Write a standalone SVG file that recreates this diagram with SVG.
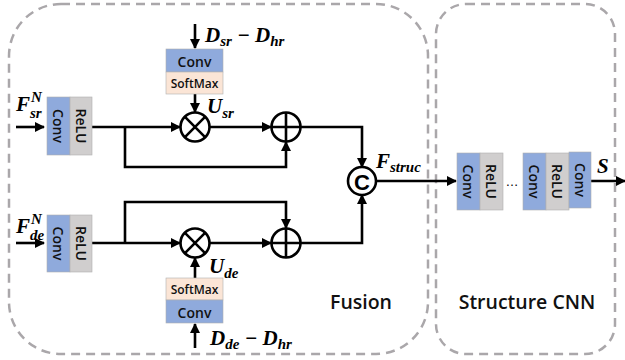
<svg xmlns="http://www.w3.org/2000/svg" width="625" height="360" viewBox="0 0 625 360">
<defs>
<marker id="ah" viewBox="0 0 10 10" refX="9" refY="5" markerWidth="10" markerHeight="10" markerUnits="userSpaceOnUse" orient="auto">
<path d="M0,0 L10,5 L0,10 Z" fill="#000"/>
</marker>
</defs>
<style>
.frame{fill:none;stroke:#aaa7aa;stroke-width:2.5;stroke-dasharray:9 6}
.ln{fill:none;stroke:#000;stroke-width:2.6}
.arr{fill:none;stroke:#000;stroke-width:2.6;marker-end:url(#ah)}
.conv{fill:#8faadc;stroke:#b0b0b0;stroke-width:0.6}
.relu{fill:#d0cece;stroke:#b0b0b0;stroke-width:0.6}
.soft{fill:#fbe5d6;stroke:#b0b0b0;stroke-width:0.6}
.bt{font-family:"Open Sans","Noto Sans",sans-serif;font-weight:600;font-size:14px;fill:#111;text-anchor:middle;dominant-baseline:central}
.sm{font-size:12px}
.op{fill:#fff;stroke:#000;stroke-width:2.6}
.m{font-family:"Liberation Serif","DejaVu Serif",serif;font-weight:bold;font-style:italic;font-size:21px;fill:#000}
.s{font-size:15px}
.cap{font-family:"Open Sans","Noto Sans",sans-serif;font-size:19.5px;font-weight:600;fill:#111;text-anchor:middle}
</style>

<g id="fusion-frame"><rect class="frame" x="9" y="4" width="419" height="350" rx="52" ry="52"/>
<text class="cap" x="361" y="309">Fusion</text></g>
<g id="cnn-frame"><rect class="frame" x="436" y="4" width="179" height="350" rx="30" ry="30"/>
<text class="cap" x="527" y="309">Structure CNN</text></g>

<g id="connectors">
<line class="arr" x1="16" y1="127" x2="44" y2="127"/>
<line class="arr" x1="16" y1="243" x2="44" y2="243"/>
<line class="arr" x1="92" y1="127" x2="180" y2="127"/>
<polyline class="arr" points="125,127 125,167 286,167 286,142"/>
<line class="arr" x1="210" y1="127" x2="271" y2="127"/>
<line class="arr" x1="195" y1="24" x2="195" y2="48"/>
<line class="arr" x1="195" y1="94" x2="195" y2="112"/>
<polyline class="arr" points="301,127 362,127 362,167"/>
<line class="arr" x1="92" y1="243" x2="180" y2="243"/>
<polyline class="arr" points="125,243 125,202 286,202 286,228"/>
<line class="arr" x1="210" y1="243" x2="271" y2="243"/>
<line class="arr" x1="195" y1="348" x2="195" y2="324"/>
<line class="arr" x1="195" y1="278" x2="195" y2="258"/>
<polyline class="arr" points="301,243 362,243 362,195"/>
<line class="arr" x1="376" y1="181" x2="456" y2="181"/>
<line class="arr" x1="591" y1="181" x2="625" y2="181"/>
</g>

<g id="convrelu-sr">
<rect class="conv" x="47" y="97" width="23" height="58"/>
<rect class="relu" x="70" y="97" width="22" height="58"/>
<text class="bt" transform="translate(58.5,126) rotate(90)">Conv</text>
<text class="bt" transform="translate(81,126) rotate(90)">ReLU</text>
</g>
<g id="convrelu-de">
<rect class="conv" x="47" y="215" width="23" height="57"/>
<rect class="relu" x="70" y="215" width="22" height="57"/>
<text class="bt" transform="translate(58.5,243.5) rotate(90)">Conv</text>
<text class="bt" transform="translate(81,243.5) rotate(90)">ReLU</text>
</g>
<g id="att-sr">
<rect class="conv" x="166" y="49" width="57" height="23"/>
<rect class="soft" x="166" y="72" width="57" height="22"/>
<text class="bt" x="194.5" y="61">Conv</text>
<text class="bt sm" x="194.5" y="83">SoftMax</text>
</g>
<g id="att-de">
<rect class="soft" x="166" y="278" width="57" height="22"/>
<rect class="conv" x="166" y="300" width="57" height="23"/>
<text class="bt sm" x="194.5" y="289">SoftMax</text>
<text class="bt" x="194.5" y="312">Conv</text>
</g>

<g id="mul-sr"><circle class="op" cx="195" cy="127" r="14.5"/><path class="ln" d="M184.7,116.7 L205.3,137.3 M205.3,116.7 L184.7,137.3"/></g>
<g id="add-sr"><circle class="op" cx="286" cy="127" r="14.5"/><path class="ln" d="M271.5,127 H300.5 M286,112.5 V141.5"/></g>
<g id="mul-de"><circle class="op" cx="195" cy="243" r="14.5"/><path class="ln" d="M184.7,232.7 L205.3,253.3 M205.3,232.7 L184.7,253.3"/></g>
<g id="add-de"><circle class="op" cx="286" cy="243" r="14.5"/><path class="ln" d="M271.5,243 H300.5 M286,228.5 V257.5"/></g>
<g id="concat"><circle class="op" cx="362" cy="181" r="14"/>
<text x="362" y="182" style="font-family:'Liberation Sans',sans-serif;font-weight:bold;font-size:22px;text-anchor:middle;dominant-baseline:central">C</text></g>

<g id="cnn1">
<rect class="conv" x="457" y="153" width="23" height="57"/>
<rect class="relu" x="480" y="153" width="23" height="57"/>
<text class="bt" transform="translate(468.5,181.5) rotate(90)">Conv</text>
<text class="bt" transform="translate(491.5,181.5) rotate(90)">ReLU</text>
</g>
<text x="512" y="186" style="font-family:'Liberation Sans',sans-serif;font-size:13px;text-anchor:middle">…</text>
<g id="cnn2">
<rect class="conv" x="523" y="153" width="23" height="57"/>
<rect class="relu" x="546" y="153" width="23" height="57"/>
<rect class="conv" x="569" y="152" width="22" height="56"/>
<text class="bt" transform="translate(534.5,181.5) rotate(90)">Conv</text>
<text class="bt" transform="translate(557.5,181.5) rotate(90)">ReLU</text>
<text class="bt" transform="translate(580,180) rotate(90)">Conv</text>
</g>

<g id="labels">
<text class="m" x="16" y="111">F</text>
<text class="m s" x="31" y="102">N</text>
<text class="m s" x="30" y="118">sr</text>
<text class="m" x="16" y="233">F</text>
<text class="m s" x="31" y="224">N</text>
<text class="m s" x="30" y="240">de</text>
<text class="m" x="205" y="42">D<tspan class="s" dy="4">sr</tspan><tspan dy="-4"> − D</tspan><tspan class="s" dy="4">hr</tspan></text>
<text class="m" x="210" y="345">D<tspan class="s" dy="4">de</tspan><tspan dy="-4"> − D</tspan><tspan class="s" dy="4">hr</tspan></text>
<text class="m" x="207" y="113">U<tspan class="s" dy="5">sr</tspan></text>
<text class="m" x="209" y="273">U<tspan class="s" dy="5">de</tspan></text>
<text class="m" x="376" y="168">F<tspan class="s" dy="4">struc</tspan></text>
<text class="m" x="597" y="173">S</text>
</g>
</svg>
